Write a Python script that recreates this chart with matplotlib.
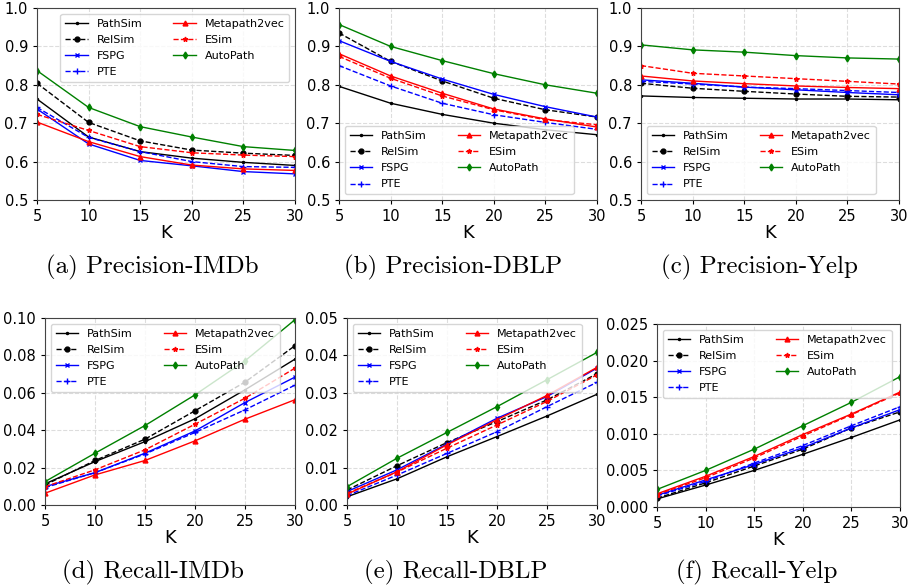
import numpy as np
import matplotlib
matplotlib.use("Agg")
import matplotlib.pyplot as plt

K = [5, 10, 15, 20, 25, 30]
methods = ['PathSim', 'RelSim', 'FSPG', 'PTE', 'Metapath2vec', 'ESim', 'AutoPath']

# Precision values per dataset, one list per method (order as in methods)
prec_imdb = [
    [0.763, 0.664, 0.626, 0.609, 0.598, 0.590],
    [0.804, 0.702, 0.654, 0.630, 0.622, 0.616],
    [0.737, 0.646, 0.603, 0.589, 0.574, 0.568],
    [0.741, 0.663, 0.626, 0.600, 0.587, 0.585],
    [0.703, 0.652, 0.613, 0.591, 0.581, 0.577],
    [0.723, 0.681, 0.639, 0.623, 0.617, 0.613],
    [0.837, 0.741, 0.691, 0.664, 0.639, 0.629],
]
prec_dblp = [
    [0.796, 0.752, 0.723, 0.700, 0.683, 0.670],
    [0.935, 0.861, 0.810, 0.765, 0.735, 0.716],
    [0.915, 0.861, 0.815, 0.775, 0.743, 0.716],
    [0.850, 0.797, 0.752, 0.722, 0.702, 0.684],
    [0.881, 0.823, 0.778, 0.737, 0.711, 0.690],
    [0.874, 0.817, 0.771, 0.735, 0.709, 0.696],
    [0.957, 0.900, 0.863, 0.829, 0.800, 0.778],
]
prec_yelp = [
    [0.771, 0.767, 0.765, 0.763, 0.763, 0.761],
    [0.804, 0.791, 0.783, 0.776, 0.770, 0.768],
    [0.813, 0.804, 0.794, 0.787, 0.780, 0.774],
    [0.809, 0.802, 0.794, 0.790, 0.785, 0.780],
    [0.823, 0.810, 0.803, 0.797, 0.793, 0.790],
    [0.850, 0.830, 0.823, 0.816, 0.809, 0.802],
    [0.904, 0.891, 0.885, 0.876, 0.870, 0.867],
]
rec_imdb = [
    [0.0113, 0.0232, 0.0339, 0.0461, 0.0616, 0.0780],
    [0.0107, 0.0238, 0.0352, 0.0504, 0.0657, 0.0852],
    [0.0098, 0.0173, 0.0277, 0.0396, 0.0548, 0.0684],
    [0.0093, 0.0173, 0.0273, 0.0388, 0.0509, 0.0641],
    [0.0063, 0.0161, 0.0238, 0.0343, 0.0459, 0.0563],
    [0.0098, 0.0188, 0.0295, 0.0432, 0.0571, 0.0732],
    [0.0125, 0.0277, 0.0425, 0.0589, 0.0771, 0.0991],
]
rec_dblp = [
    [0.0022, 0.0070, 0.0129, 0.0183, 0.0238, 0.0296],
    [0.0040, 0.0105, 0.0167, 0.0223, 0.0281, 0.0351],
    [0.0036, 0.0094, 0.0163, 0.0232, 0.0290, 0.0366],
    [0.0025, 0.0080, 0.0138, 0.0196, 0.0263, 0.0328],
    [0.0029, 0.0089, 0.0161, 0.0228, 0.0293, 0.0368],
    [0.0031, 0.0088, 0.0152, 0.0214, 0.0277, 0.0348],
    [0.0049, 0.0125, 0.0194, 0.0263, 0.0335, 0.0408],
]
rec_yelp = [
    [0.0011, 0.0030, 0.0050, 0.0072, 0.0095, 0.0119],
    [0.0012, 0.0033, 0.0056, 0.0079, 0.0108, 0.0130],
    [0.0016, 0.0037, 0.0058, 0.0081, 0.0108, 0.0133],
    [0.0015, 0.0035, 0.0060, 0.0084, 0.0111, 0.0137],
    [0.0018, 0.0042, 0.0069, 0.0099, 0.0127, 0.0157],
    [0.0017, 0.0040, 0.0067, 0.0097, 0.0126, 0.0156],
    [0.0024, 0.0050, 0.0079, 0.0111, 0.0143, 0.0178],
]

styles = [
    dict(color='black', linestyle='-', marker='.', markersize=3),
    dict(color='black', linestyle='--', marker='o', markersize=3.5),
    dict(color='blue', linestyle='-', marker='x', markersize=3),
    dict(color='blue', linestyle='--', marker='+', markersize=4),
    dict(color='red', linestyle='-', marker='^', markersize=3.5),
    dict(color='red', linestyle='--', marker='*', markersize=3.5),
    dict(color='green', linestyle='-', marker='d', markersize=3.5),
]

W, H = 910, 587
fig = plt.figure(figsize=(W / 100, H / 100), dpi=100)

# panels: data, pixel box (left, top, right, bottom), ylim, yticks, legend loc, caption, caption x/y
panels = [
    (prec_imdb, (37, 8, 295, 200), (0.5, 1.0), np.arange(0.5, 1.01, 0.1), 'upper right', '(a) Precision-IMDb', 152, 267),
    (prec_dblp, (339, 8, 597, 200), (0.5, 1.0), np.arange(0.5, 1.01, 0.1), 'lower left', '(b) Precision-DBLP', 453, 267),
    (prec_yelp, (641, 8, 899, 200), (0.5, 1.0), np.arange(0.5, 1.01, 0.1), 'lower left', '(c) Precision-Yelp', 759, 267),
    (rec_imdb, (45, 318, 295, 505), (0.0, 0.1), np.arange(0.0, 0.101, 0.02), 'upper left', '(d) Recall-IMDb', 153, 572),
    (rec_dblp, (347, 318, 597, 505), (0.0, 0.05), np.arange(0.0, 0.051, 0.01), 'upper left', '(e) Recall-DBLP', 456, 572),
    (rec_yelp, (657, 324, 900, 507), (0.0, 0.025), np.arange(0.0, 0.0251, 0.005), 'upper left', '(f) Recall-Yelp', 757, 572),
]

fmts = ['%.1f', '%.1f', '%.1f', '%.2f', '%.2f', '%.3f']

for i, (data, box, ylim, yticks, loc, caption, cx, cy) in enumerate(panels):
    l, t, r, b = box
    ax = fig.add_axes([l / W, 1 - b / H, (r - l) / W, (b - t) / H])
    for j, name in enumerate(methods):
        ax.plot(K, data[j], label=name, linewidth=1, **styles[j])
    ax.set_xlim(5, 30)
    ax.set_ylim(*ylim)
    ax.set_xticks(K)
    ax.set_yticks(yticks)
    ax.set_yticklabels([fmts[i] % v for v in yticks])
    ax.tick_params(labelsize=10.5, length=3)
    ax.grid(True, linestyle='--', color='#dddddd', linewidth=0.8)
    ax.set_axisbelow(True)
    for s in ax.spines.values():
        s.set_color('#444444')
        s.set_linewidth(0.8)
    ax.set_xlabel('K', fontsize=13, labelpad=0)
    ax.legend(loc=loc, ncol=2, fontsize=8, handlelength=2.0, columnspacing=2.8,
              labelspacing=0.55, borderpad=0.45, framealpha=0.8)
    fig.text(cx / W, 1 - cy / H, caption, ha='center', va='center',
             fontsize=18, family='cmr10')

fig.savefig('out.png', dpi=100)
